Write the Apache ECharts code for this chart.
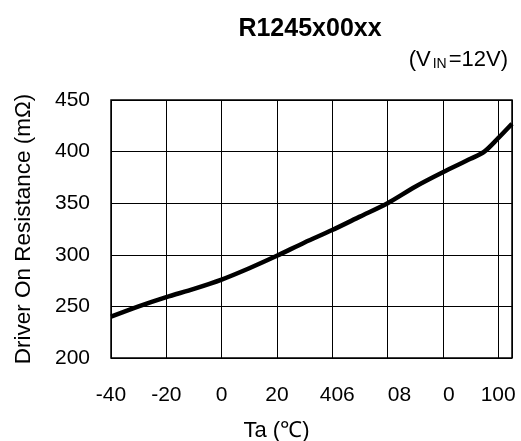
<!DOCTYPE html>
<html>
<head>
<meta charset="utf-8">
<script src="https://cdn.jsdelivr.net/npm/echarts@6/dist/echarts.min.js"></script>
<style>
  html, body { margin: 0; padding: 0; background: #fff; }
  #chart { width: 521px; height: 441px; }
</style>
</head>
<body>
<div id="chart"></div>
<script>
// ambient temperature (°C) and driver on resistance (mΩ)
const temps = [-40, -30, -20, -10, 0, 10, 20, 30, 40, 50, 60, 70, 80, 90, 95, 100, 105];
const resist = [240, 250, 259, 267, 276, 287, 299, 312, 324, 337, 350, 366, 380, 393, 400, 413, 427];
// x tick labels as printed on the original sheet (some sit off their tick)
const xTickLabels = ['-40', '-20', '0', '20', '406', '08', '0', '100'];
const xLabelShift = [0, 0, 0, 0, 5, 12, 6, 0];

const chart = echarts.init(document.getElementById('chart'));
const font = 'Liberation Sans, Arial, sans-serif';

const labelRich = {};
xLabelShift.forEach((s, i) => {
  labelRich['l' + i] = {
    fontFamily: font, fontSize: 21, color: '#000',
    padding: [0, 0, 0, s * 2]
  };
});

const option = {
  backgroundColor: '#fff',
  animation: false,
  title: [{
    text: 'R1245x00xx',
    left: 305, top: 12, textAlign: 'center',
    textStyle: { fontFamily: font, fontSize: 25, fontWeight: 'bold', color: '#000' }
  }, {
    text: '{n|(V}{s|IN}{n|=12V)}',
    right: 8, top: 44,
    textStyle: {
      rich: {
        n: { fontFamily: font, fontSize: 22, fontWeight: 'normal', color: '#000' },
        s: { fontFamily: font, fontSize: 14, fontWeight: 'normal', color: '#000', padding: [8, 2, 0, 2] }
      }
    }
  }],
  grid: {
    left: 111, right: 9, top: 100, bottom: 83,
    outerBoundsMode: 'none',
    show: true, borderColor: '#000', borderWidth: 1.5
  },
  xAxis: {
    type: 'value',
    min: -40, max: 105, interval: 20,
    name: 'Ta (℃)',
    nameLocation: 'middle', nameGap: 62,
    nameTextStyle: { fontFamily: font, fontSize: 22, color: '#000', padding: [0, 70, 0, 0] },
    axisLine: { show: false },
    axisTick: { show: false },
    axisLabel: {
      fontFamily: font, fontSize: 21, color: '#000', margin: 27,
      showMaxLabel: false,
      rich: labelRich,
      formatter: v => {
        const i = Math.round((v + 40) / 20);
        return xTickLabels[i] === undefined ? '' : '{l' + i + '|' + xTickLabels[i] + '}';
      }
    },
    splitLine: { show: true, lineStyle: { color: '#000', width: 1 } }
  },
  yAxis: {
    type: 'value',
    min: 200, max: 450, interval: 50,
    name: 'Driver On Resistance (mΩ)',
    nameLocation: 'middle', nameGap: 76,
    nameTextStyle: { fontFamily: font, fontSize: 22.5, color: '#000' },
    axisLine: { show: false },
    axisTick: { show: false },
    axisLabel: { fontFamily: font, fontSize: 21, color: '#000', margin: 21 },
    splitLine: { show: true, lineStyle: { color: '#000', width: 1 } }
  },
  series: [{
    type: 'line',
    data: temps.map((t, i) => [t, resist[i]]),
    smooth: 0.3,
    symbol: 'none',
    lineStyle: { color: '#000', width: 4.5 }
  }]
};
chart.setOption(option);
</script>
</body>
</html>
